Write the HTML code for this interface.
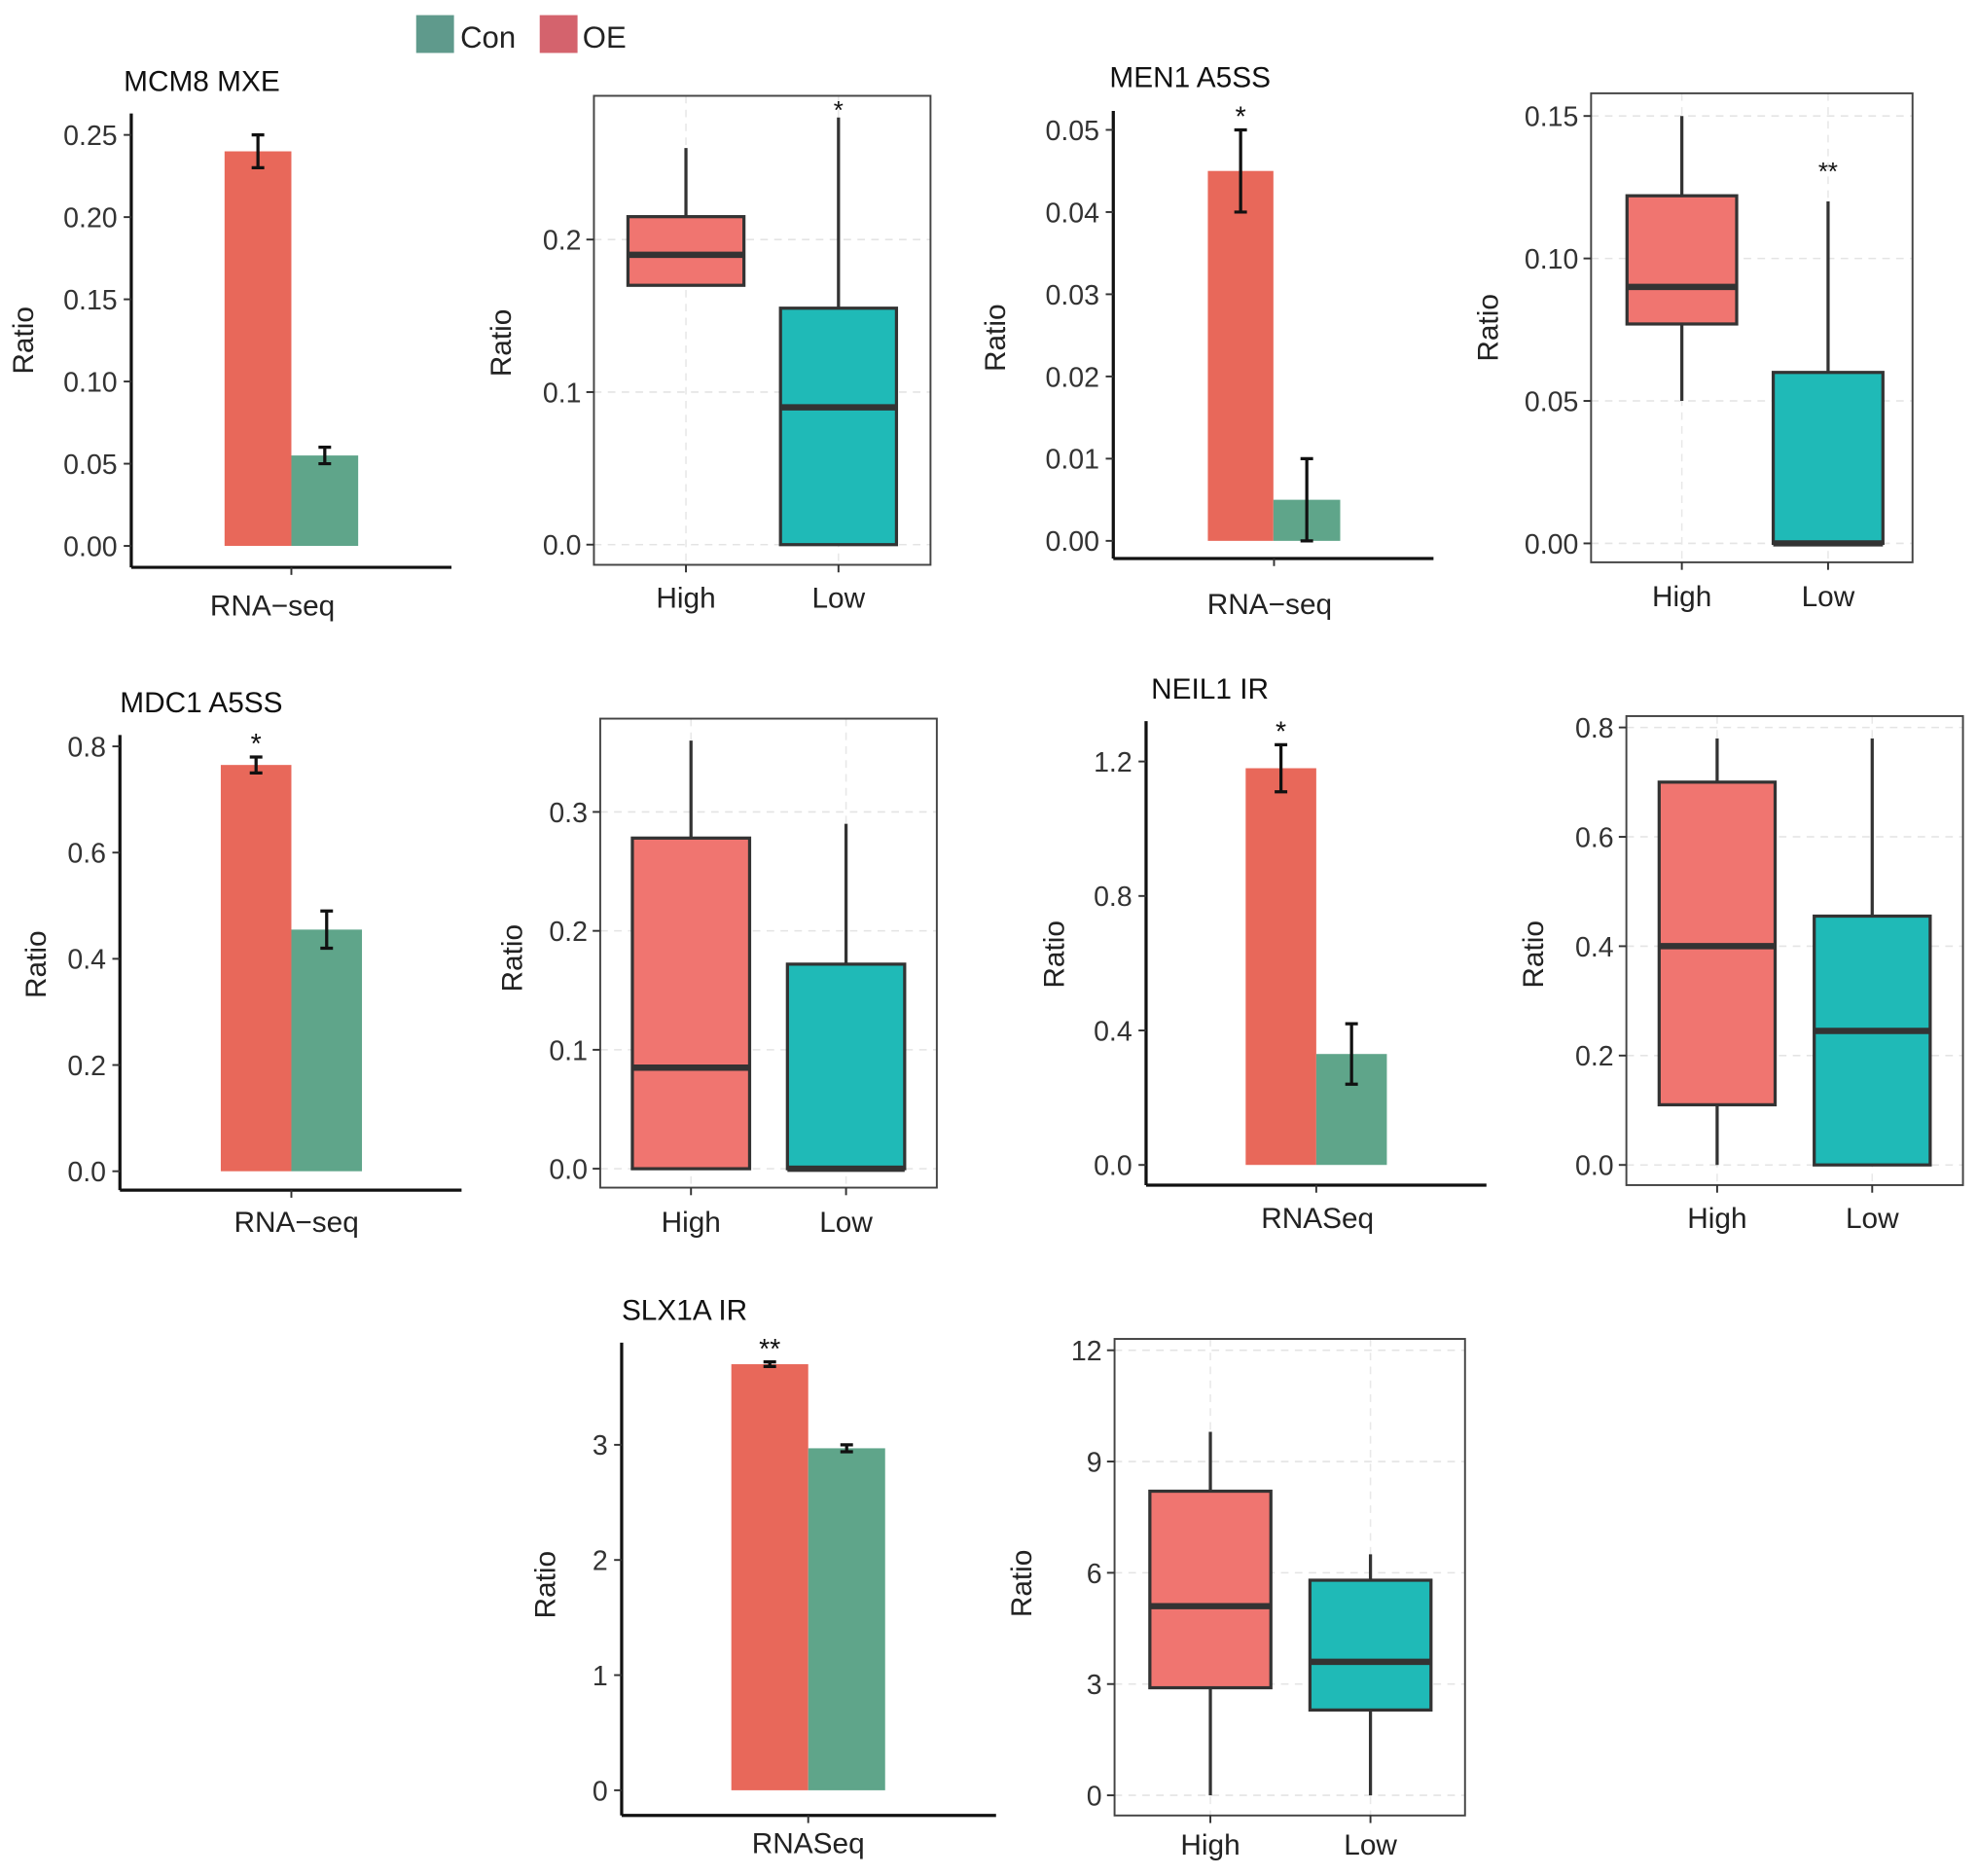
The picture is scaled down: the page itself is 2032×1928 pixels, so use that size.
<!DOCTYPE html>
<html><head><meta charset="utf-8"><style>
html,body{margin:0;padding:0;background:#fff;}
svg{display:block;font-family:"Liberation Sans",Arial,sans-serif;}
</style></head><body>
<svg id="fig" width="2032" height="1928" viewBox="0 0 1568 1488" xmlns="http://www.w3.org/2000/svg">
<g>
<rect x="330" y="12" width="30" height="30" fill="#5f9a8c"/>
<text x="365" y="38" font-size="24" fill="#222">Con</text>
<rect x="428" y="12" width="30" height="30" fill="#d4636d"/>
<text x="462" y="38" font-size="24" fill="#222">OE</text>
</g>
</svg>
<script>
// ---- data ----
const barTitles = ["MCM8 MXE","MEN1 A5SS","MDC1 A5SS","NEIL1 IR","SLX1A IR"];
const barXLabels = ["RNA−seq","RNA−seq","RNA−seq","RNASeq","RNASeq"];
const oeValues = [0.24,0.045,0.765,1.18,3.70];
const oeErrLow = [0.23,0.04,0.75,1.11,3.68];
const oeErrHigh = [0.25,0.05,0.78,1.25,3.72];
const conValues = [0.055,0.005,0.455,0.33,2.97];
const conErrLow = [0.05,0.0,0.42,0.24,2.94];
const conErrHigh = [0.06,0.01,0.49,0.42,3.00];
const barStars = ["","*","*","*","**"];
const barTicks = [
 ["0.00","0.05","0.10","0.15","0.20","0.25"],
 ["0.00","0.01","0.02","0.03","0.04","0.05"],
 ["0.0","0.2","0.4","0.6","0.8"],
 ["0.0","0.4","0.8","1.2"],
 ["0","1","2","3"]];
const boxCategories = ["High","Low"];
const boxMin = [[0.17,0.0],[0.05,0.0],[0.0,0.0],[0.0,0.0],[0.0,0.0]];
const boxQ1 = [[0.17,0.0],[0.077,0.0],[0.0,0.0],[0.11,0.0],[2.9,2.3]];
const boxMedian = [[0.19,0.09],[0.09,0.0],[0.085,0.0],[0.40,0.245],[5.1,3.6]];
const boxQ3 = [[0.215,0.155],[0.122,0.06],[0.278,0.172],[0.70,0.455],[8.2,5.8]];
const boxMax = [[0.26,0.28],[0.15,0.12],[0.36,0.29],[0.78,0.78],[9.8,6.5]];
const boxStars = [["","*"],["","**"],["",""],["",""],["",""]];
const boxTicks = [
 ["0.0","0.1","0.2"],
 ["0.00","0.05","0.10","0.15"],
 ["0.0","0.1","0.2","0.3"],
 ["0.0","0.2","0.4","0.6","0.8"],
 ["0","3","6","9","12"]];

// ---- layout (not data) ----
const barLayout = [
 {ax:104,top:90,bot:450,right:358,y0:433,y1:107,v1:0.25,oe:[178,231],con:[231,284],tx:98,ty:72,lx:216,ly:488,rx:26,ry:270},
 {ax:883,top:88,bot:443,right:1137,y0:429,y1:103,v1:0.05,oe:[958,1010],con:[1010,1063],tx:880,ty:69,lx:1007,ly:487,rx:797,ry:268},
 {ax:95,top:583,bot:944,right:366,y0:929,y1:592,v1:0.8,oe:[175,231],con:[231,287],tx:95,ty:565,lx:235,ly:977,rx:36,ry:765},
 {ax:909,top:572,bot:940,right:1179,y0:924,y1:604,v1:1.2,oe:[988,1044],con:[1044,1100],tx:913,ty:554,lx:1045,ly:974,rx:844,ry:757},
 {ax:493,top:1065,bot:1440,right:790,y0:1420,y1:1146,v1:3,oe:[580,641],con:[641,702],tx:493,ty:1047,lx:641,ly:1470,rx:440,ry:1257}];
const boxLayout = [
 {l:471,t:76,r:738,b:448,y0:432,y1:190,v1:0.2,c:[544,665],w:92,ly:482,rx:405,ry:272},
 {l:1262,t:74,r:1517,b:446,y0:431,y1:92,v1:0.15,c:[1334,1450],w:87,ly:481,rx:1188,ry:260},
 {l:476,t:570,r:743,b:942,y0:927,y1:644,v1:0.3,c:[548,671],w:93,ly:977,rx:414,ry:760},
 {l:1290,t:568,r:1557,b:940,y0:924,y1:577,v1:0.8,c:[1362,1485],w:92,ly:974,rx:1224,ry:757},
 {l:884,t:1062,r:1162,b:1440,y0:1424,y1:1071,v1:12,c:[960,1087],w:96,ly:1471,rx:818,ry:1256}];

const NS="http://www.w3.org/2000/svg";
const svg=document.getElementById('fig');
function mk(tag,attrs,parent,txt){const e=document.createElementNS(NS,tag);for(const k in attrs)e.setAttribute(k,attrs[k]);if(txt!==undefined)e.textContent=txt;(parent||svg).appendChild(e);return e;}
function scaleFn(L){return v=>L.y0+(L.y1-L.y0)*v/L.v1;}

barLayout.forEach((L,i)=>{
 const g=mk('g',{});
 
 
 const y=scaleFn(L);
 const t=mk('text',{x:L.tx,y:L.ty,'font-size':23,fill:'#111'},g,barTitles[i]);
 
 
 const ya=mk('line',{x1:L.ax,y1:L.top,x2:L.ax,y2:L.bot,stroke:'#111','stroke-width':2.5},g);
 
 
 const xa=mk('line',{x1:L.ax,y1:L.bot,x2:L.right,y2:L.bot,stroke:'#111','stroke-width':2.5},g);
 
 
 barTicks[i].forEach(s=>{
  const yy=y(parseFloat(s));
  mk('line',{x1:L.ax-6,y1:yy,x2:L.ax,y2:yy,stroke:'#333','stroke-width':1.5},g);
  const tl=mk('text',{x:L.ax-11,y:yy+8,'font-size':22,fill:'#333','text-anchor':'end'},g,s);
  
  
 });
 const bars=[[L.oe,oeValues[i],oeErrLow[i],oeErrHigh[i],'#e8685a','bar-oe'],[L.con,conValues[i],conErrLow[i],conErrHigh[i],'#5fa58a','bar-con']];
 bars.forEach(([xr,v,lo,hi,col,nm])=>{
  const r=mk('rect',{x:xr[0],y:y(v),width:xr[1]-xr[0],height:y(0)-y(v),fill:col},g);
  
  
  const cx=(xr[0]+xr[1])/2;
  const e=mk('path',{d:`M${cx-5},${y(hi)}H${cx+5}M${cx},${y(hi)}V${y(lo)}M${cx-5},${y(lo)}H${cx+5}`,stroke:'#111','stroke-width':2.5,fill:'none'},g);
  
  
 });
 if(barStars[i]){
  const cx=(L.oe[0]+L.oe[1])/2;
  const st=mk('text',{x:cx,y:y(oeErrHigh[i])-3,'font-size':22,fill:'#111','text-anchor':'middle'},g,barStars[i]);
  
  
 }
 const cx=(L.oe[0]+L.con[1])/2;
 mk('line',{x1:cx,y1:L.bot,x2:cx,y2:L.bot+6,stroke:'#333','stroke-width':1.5},g);
 const xl=mk('text',{x:L.lx,y:L.ly,'font-size':23,fill:'#222','text-anchor':'middle'},g,barXLabels[i]);
 
 
 const rl=mk('text',{x:L.rx,y:L.ry,'font-size':23,fill:'#222','text-anchor':'middle',transform:`rotate(-90 ${L.rx} ${L.ry})`},g,'Ratio');
 
 
});

const boxCols=['#f07570','#1fbab7'];
boxLayout.forEach((L,i)=>{
 const g=mk('g',{});
 
 
 const y=scaleFn(L);
 const ticks=boxTicks[i].map(s=>parseFloat(s));
 for(let k=0;k<ticks.length;k++){
  mk('line',{x1:L.l,y1:y(ticks[k]),x2:L.r,y2:y(ticks[k]),stroke:'#e4e4e4','stroke-width':1.2,'stroke-dasharray':'6,5'},g);
 }
 L.c.forEach(c=>mk('line',{x1:c,y1:L.t,x2:c,y2:L.b,stroke:'#e8e8e8','stroke-width':1.2,'stroke-dasharray':'6,5'},g));
 const fr=mk('rect',{x:L.l,y:L.t,width:L.r-L.l,height:L.b-L.t,fill:'none',stroke:'#444','stroke-width':1.5},g);
 
 
 boxTicks[i].forEach(s=>{
  const yy=y(parseFloat(s));
  mk('line',{x1:L.l-6,y1:yy,x2:L.l,y2:yy,stroke:'#333','stroke-width':1.5},g);
  const tl=mk('text',{x:L.l-10,y:yy+8,'font-size':22,fill:'#333','text-anchor':'end'},g,s);
  
  
 });
 boxCategories.forEach((cat,j)=>{
  const c=L.c[j],w=L.w;
  const wk=mk('line',{x1:c,y1:y(boxMax[i][j]),x2:c,y2:y(boxMin[i][j]),stroke:'#333','stroke-width':2.5},g);
  
  
  const bx=mk('rect',{x:c-w/2,y:y(boxQ3[i][j]),width:w,height:Math.max(y(boxQ1[i][j])-y(boxQ3[i][j]),0.5),fill:boxCols[j],stroke:'#333','stroke-width':2.5},g);
  
  
  const md=mk('line',{x1:c-w/2,y1:y(boxMedian[i][j]),x2:c+w/2,y2:y(boxMedian[i][j]),stroke:'#333','stroke-width':5},g);
  
  
  mk('line',{x1:c,y1:L.b,x2:c,y2:L.b+6,stroke:'#333','stroke-width':1.5},g);
  const xl=mk('text',{x:c,y:L.ly,'font-size':23,fill:'#222','text-anchor':'middle'},g,cat);
  
  
  if(boxStars[i][j]){
   const off=boxStars[i][j].length>1?17:-1;
   const st=mk('text',{x:c,y:y(boxMax[i][j])-off,'font-size':20,fill:'#111','text-anchor':'middle'},g,boxStars[i][j]);
   
   
  }
 });
 const rl=mk('text',{x:L.rx,y:L.ry,'font-size':23,fill:'#222','text-anchor':'middle',transform:`rotate(-90 ${L.rx} ${L.ry})`},g,'Ratio');
 
 
});
</script>
</body></html>
